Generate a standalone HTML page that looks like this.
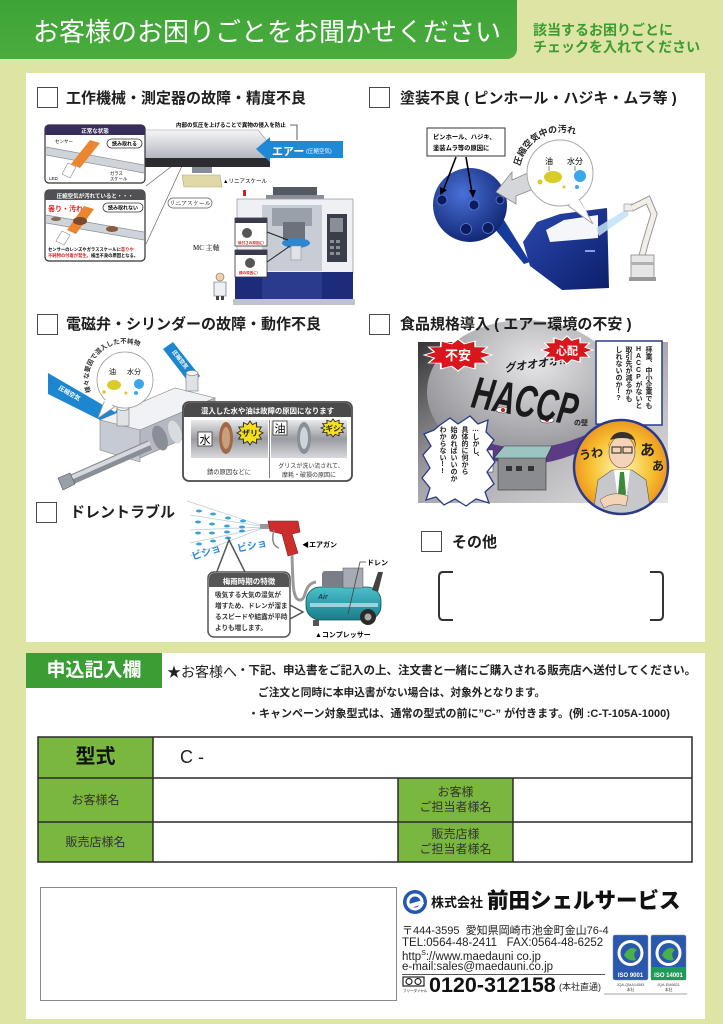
<!DOCTYPE html>
<html lang="ja"><head><meta charset="utf-8">
<style>
*{margin:0;padding:0;box-sizing:border-box}
html,body{width:723px;height:1024px;overflow:hidden}
body{background:#dde4a4;position:relative;font-family:"Liberation Sans","Noto Sans CJK JP",sans-serif;color:#222}
.a{position:absolute;white-space:nowrap;line-height:1}
.cb{position:absolute;width:21px;height:21px;border:1.6px solid #4a4a4a;background:#fff}
.t{position:absolute;font-weight:bold;font-size:15px;line-height:1;white-space:nowrap;color:#1e1e1e}
.v{position:absolute;writing-mode:vertical-rl;text-orientation:upright;white-space:nowrap;font-weight:bold;color:#222}
.c{position:absolute;display:flex;align-items:center;justify-content:center;text-align:center;line-height:1.25;color:#333}
</style></head><body>

<div class="a" style="left:0;top:0;width:517px;height:59px;background:linear-gradient(#3ea337,#4aac3d);border-radius:0 0 10px 0"></div>
<div class="a" style="left:26px;top:73px;width:679px;height:569px;background:#fff"></div>
<div class="a" style="left:26px;top:653px;width:679px;height:366px;background:#fff"></div>

<svg class="a" style="left:0;top:0;font-family:'Liberation Sans','Noto Sans CJK JP',sans-serif" width="723" height="1024" viewBox="0 0 723 1024">
<defs>
<linearGradient id="gs" x1="0" y1="0" x2="0" y2="1"><stop offset="0" stop-color="#f6f6f8"/><stop offset="1" stop-color="#aeb2ba"/></linearGradient>
<radialGradient id="gb" cx=".4" cy=".35" r=".7"><stop offset="0" stop-color="#4a70d8"/><stop offset="1" stop-color="#0e2470"/></radialGradient>
<linearGradient id="gd" x1="0" y1="0" x2="1" y2="1"><stop offset="0" stop-color="#2a48b0"/><stop offset="1" stop-color="#0c1f6a"/></linearGradient>
<linearGradient id="gm" x1="0" y1="0" x2="1" y2="1"><stop offset="0" stop-color="#353538"/><stop offset=".45" stop-color="#a4a4a8"/><stop offset="1" stop-color="#e4e4e4"/></linearGradient>
<radialGradient id="gc" cx=".55" cy=".3" r=".7"><stop offset="0" stop-color="#e6e6e8"/><stop offset="1" stop-color="#8c8c92"/></radialGradient>
<radialGradient id="go" cx=".5" cy=".5" r=".55"><stop offset="0" stop-color="#fff6b0"/><stop offset=".6" stop-color="#f7c030"/><stop offset="1" stop-color="#ea8a1c"/></radialGradient>
<linearGradient id="gp" x1="0" y1="0" x2="0" y2="1"><stop offset="0" stop-color="#eaeaec"/><stop offset=".5" stop-color="#9a9ca2"/><stop offset="1" stop-color="#d8d9dc"/></linearGradient>
<linearGradient id="gt" x1="0" y1="0" x2="0" y2="1"><stop offset="0" stop-color="#4cc0cc"/><stop offset="1" stop-color="#1a7c8a"/></linearGradient>
<clipPath id="cc"><circle cx="621" cy="467" r="47"/></clipPath>
<path id="arc1" d="M520,166 A42,42 0 0 1 600,158"/>
<path id="arc2" d="M91,392 A36,36 0 0 1 153,357"/>
</defs>

<!-- ===== Illustration 1 ===== -->
<line x1="172" y1="166" x2="146" y2="186" stroke="#666" stroke-width=".7"/>
<line x1="182" y1="166" x2="146" y2="244" stroke="#666" stroke-width=".7"/>
<polygon points="145,130 258,130 268,142 268,160 145,160" fill="url(#gs)" stroke="#999" stroke-width=".6"/>
<rect x="143" y="158" width="127" height="9" fill="#2b2b30"/>
<rect x="192" y="167" width="20" height="6" fill="#888c94"/>
<polygon points="182,175 220,175 222,187 184,187" fill="#e0d8a8" stroke="#b0a870" stroke-width=".6"/>
<text x="223" y="183" font-size="5.5">▲リニアスケール</text>
<text x="176" y="127" font-size="5.5" font-weight="bold">内部の気圧を上げることで異物の侵入を防止</text>
<polyline points="290,125 297,125 297,140" fill="none" stroke="#333" stroke-width=".8"/>
<polygon points="256,149 270,137 270,141 343,141 343,158 270,158 270,162" fill="#1e8ad6"/>
<text x="272" y="155" font-size="11" font-weight="bold" fill="#fff">エアー</text>
<text x="306" y="153" font-size="5.5" fill="#fff">(圧縮空気)</text>

<rect x="45" y="125" width="100" height="58" rx="4" fill="#fff" stroke="#333" stroke-width="1.2"/>
<path d="M45,129a4,4 0 0 1 4-4h92a4,4 0 0 1 4,4v6H45z" fill="#3a2c5c"/>
<text x="95" y="133" font-size="5.5" fill="#fff" text-anchor="middle" font-weight="bold">正常な状態</text>
<polygon points="46,147 144,165 144,173 46,155" fill="#cfd3da"/>
<line x1="46" y1="147" x2="144" y2="165" stroke="#8a8e96" stroke-width=".7"/>
<line x1="46" y1="155" x2="144" y2="173" stroke="#8a8e96" stroke-width=".7"/>
<polygon points="90,140 100,143 80,168 71,164" fill="#ea8630"/>
<polygon points="68,163 76,167 70,178 62,174" fill="#fff" stroke="#888" stroke-width=".6"/>
<text x="55" y="143" font-size="4.5">センサー</text>
<rect x="107" y="139" width="35" height="9" rx="4.5" fill="#fff" stroke="#333" stroke-width=".8"/>
<text x="124.5" y="145.5" font-size="5" text-anchor="middle" font-weight="bold">読み取れる</text>
<text x="49" y="180" font-size="4.5">LED</text>
<text x="110" y="175" font-size="4.3">ガラス</text>
<text x="110" y="180.5" font-size="4.3">スケール</text>

<rect x="45" y="190" width="100" height="71" rx="4" fill="#fff" stroke="#333" stroke-width="1.2"/>
<path d="M45,194a4,4 0 0 1 4-4h92a4,4 0 0 1 4,4v6H45z" fill="#505055"/>
<text x="95" y="198" font-size="5.5" fill="#fff" text-anchor="middle" font-weight="bold">圧縮空気が汚れていると・・・</text>
<polygon points="46,215 144,232 144,240 46,223" fill="#cfd3da"/>
<line x1="46" y1="215" x2="144" y2="232" stroke="#8a8e96" stroke-width=".7"/>
<line x1="46" y1="223" x2="144" y2="240" stroke="#8a8e96" stroke-width=".7"/>
<text x="48" y="211" font-size="7" font-weight="bold" fill="#d42020">曇り・汚れ</text>
<polygon points="84,206 94,209 76,234 67,230" fill="#ea8630"/>
<ellipse cx="80" cy="221" rx="7" ry="4" fill="#7a4a2a"/>
<ellipse cx="112" cy="229" rx="6" ry="3" fill="#8a5a3a"/>
<ellipse cx="56" cy="219" rx="5" ry="2" fill="#8a6a4a"/>
<polygon points="62,231 70,235 64,245 56,241" fill="#fff" stroke="#888" stroke-width=".6"/>
<rect x="103" y="203" width="40" height="9" rx="4.5" fill="#fff" stroke="#333" stroke-width=".8"/>
<text x="123" y="209.5" font-size="5" text-anchor="middle" font-weight="bold">読み取れない</text>
<text x="48" y="251" font-size="4.3" font-weight="bold">センサーのレンズやガラススケールに<tspan fill="#d42020">曇りや</tspan></text>
<text x="48" y="257" font-size="4.3" font-weight="bold"><tspan fill="#d42020">不純物の付着が発生。</tspan>検出不良の原因となる。</text>

<rect x="168" y="198" width="44" height="10" rx="5" fill="#fff" stroke="#555" stroke-width=".7"/>
<text x="190" y="205.5" font-size="6" text-anchor="middle" style="font-family:'Liberation Serif','Noto Serif CJK SC',serif">リニアスケール</text>

<rect x="273" y="187" width="44" height="11" fill="#555a62"/>
<rect x="266" y="195" width="58" height="5" fill="#8a8e96"/>
<rect x="237" y="199" width="116" height="74" fill="#eef0f4" stroke="#9aa0aa" stroke-width=".8"/>
<rect x="262" y="205" width="60" height="66" fill="#c8ccd4"/>
<rect x="272" y="208" width="40" height="18" fill="#9aa0aa"/>
<rect x="283" y="222" width="22" height="18" fill="#6c727c"/>
<ellipse cx="296" cy="243" rx="14" ry="5" fill="#2f86d0"/>
<rect x="291" y="246" width="10" height="14" fill="#dfe2e6" stroke="#888" stroke-width=".5"/>
<rect x="327" y="214" width="20" height="48" fill="#3a3e48"/>
<g fill="#8a8e98"><rect x="330" y="240" width="4" height="3"/><rect x="336" y="240" width="4" height="3"/><rect x="330" y="246" width="4" height="3"/><rect x="336" y="246" width="4" height="3"/><rect x="330" y="252" width="4" height="3"/><rect x="336" y="252" width="4" height="3"/><rect x="330" y="218" width="13" height="14"/></g>
<rect x="235" y="272" width="118" height="28" fill="#1d2c7a"/>
<rect x="262" y="272" width="60" height="28" fill="#2a3a8c"/>
<rect x="233" y="299" width="122" height="6" fill="#c0c4ca"/>
<rect x="243" y="190" width="3" height="6" fill="#d42020"/>
<rect x="235" y="218" width="32" height="28" fill="#fff" stroke="#333" stroke-width=".8"/>
<rect x="235" y="218" width="32" height="5" fill="#3a3a50"/>
<circle cx="247" cy="233" r="5" fill="#555"/>
<text x="238" y="244" font-size="3.6" fill="#d42020" font-weight="bold">焼付きの原因に!</text>
<rect x="235" y="250" width="32" height="27" fill="#fff" stroke="#333" stroke-width=".8"/>
<rect x="235" y="250" width="32" height="5" fill="#3a3a50"/>
<circle cx="250" cy="263" r="5" fill="#555"/>
<text x="239" y="274" font-size="3.6" fill="#d42020" font-weight="bold">錆の原因に!</text>
<line x1="267" y1="232" x2="288" y2="240" stroke="#222" stroke-width="1"/>
<line x1="267" y1="262" x2="290" y2="246" stroke="#222" stroke-width="1"/>
<text x="193" y="250" font-size="7" style="font-family:'Liberation Serif','Noto Serif CJK SC',serif">MC 主軸</text>
<circle cx="220" cy="277" r="4" fill="#f0d0b0" stroke="#8a5a3a" stroke-width=".6"/>
<path d="M214,282h12v14h-12z" fill="#eef0f4" stroke="#556" stroke-width=".6"/>
<rect x="216" y="296" width="3" height="4" fill="#444"/><rect x="221" y="296" width="3" height="4" fill="#444"/>

<!-- ===== Illustration 2 ===== -->
<polygon points="494,228 504,220 530,262 524,264" fill="#183a9a"/>
<circle cx="470" cy="205" r="37" fill="url(#gb)"/>
<g fill="#0b1c5e" stroke="#5a7ad8" stroke-width=".8">
<circle cx="442" cy="200" r="5"/><circle cx="474" cy="205" r="5"/><circle cx="500" cy="200" r="4"/><circle cx="466" cy="229" r="5.5"/><circle cx="488" cy="228" r="5.5"/>
</g>
<rect x="427" y="128" width="78" height="28" fill="#fff" stroke="#333" stroke-width="1"/>
<text x="433" y="139" font-size="6.3" font-weight="bold">ピンホール、ハジキ、</text>
<text x="433" y="150" font-size="6.3" font-weight="bold">塗装ムラ等の原因に</text>
<line x1="456" y1="157" x2="443" y2="191" stroke="#000" stroke-width="1.6"/>
<polygon points="440,195 440,187 447,190" fill="#000"/>
<line x1="466" y1="157" x2="472" y2="193" stroke="#000" stroke-width="1.6"/>
<polygon points="473,198 469,190 476,190" fill="#000"/>
<polygon points="496,192 512,172 512,180 537,169 541,186 516,196 516,204" fill="#d4d6da" stroke="#888" stroke-width=".8"/>
<polygon points="523,242 537,222 560,214 607,208 609,288 562,290 530,266" fill="url(#gd)"/>
<polygon points="546,230 564,220 598,215 598,238 550,242" fill="#f4f6fa"/>
<rect x="585" y="250" width="10" height="2" fill="#8aa0e0"/>
<polygon points="566,204 580,201 593,224" fill="#fff" stroke="#aaa" stroke-width="1"/>
<circle cx="560" cy="173" r="33" fill="#fff" stroke="#aaa" stroke-width="1"/>
<polygon points="567,203 579,200 588,214" fill="#fff"/>
<text font-size="9" font-weight="bold" fill="#222"><textPath href="#arc1">圧縮空気中の汚れ</textPath></text>
<text x="545" y="164" font-size="8">油</text>
<text x="567" y="164" font-size="8">水分</text>
<line x1="549" y1="166" x2="549" y2="171" stroke="#333" stroke-width=".6"/>
<line x1="575" y1="166" x2="575" y2="171" stroke="#333" stroke-width=".6"/>
<ellipse cx="553" cy="177" rx="9" ry="6" fill="#d8cc28"/>
<circle cx="580" cy="176" r="6" fill="#3aa8e8"/>
<circle cx="540" cy="182" r="2.5" fill="#d8cc28"/><circle cx="564" cy="187" r="1.5" fill="#d8cc28"/><circle cx="577" cy="187" r="2" fill="#3aa8e8"/>
<polygon points="596,228 627,209 629,215 599,236" fill="#bfe0f4" opacity=".85"/>
<rect x="624" y="204" width="9" height="7" fill="#eee" stroke="#888" stroke-width=".6"/>
<path d="M632,208 L648,200 L654,214 L645,244 L642,256" stroke="#999" stroke-width="7" fill="none"/>
<path d="M632,208 L648,200 L654,214 L645,244 L642,256" stroke="#f2efe6" stroke-width="5" fill="none"/>
<rect x="631" y="255" width="23" height="25" fill="#e6e6e6" stroke="#888" stroke-width=".8"/>
<rect x="631" y="262" width="23" height="3" fill="#b0b0b0"/>
<rect x="629" y="277" width="27" height="4" fill="#999"/>

<!-- ===== Illustration 3 ===== -->
<polygon points="48,373 115,412 120,405 126,428 104,432 110,425 48,394" fill="#1d86d0"/>
<text transform="translate(58,389) rotate(30)" font-size="6" fill="#fff" font-weight="bold">圧縮空気</text>
<polygon points="163,349 173,342 200,376 190,384" fill="#1d86d0"/>
<text transform="translate(172,352) rotate(52)" font-size="5.5" fill="#fff" font-weight="bold">圧縮空気</text>
<polygon points="100,420 175,388 215,398 140,430" fill="#f0f2f5" stroke="#888" stroke-width=".6"/>
<polygon points="100,420 140,430 140,462 100,450" fill="#c6cad2" stroke="#888" stroke-width=".6"/>
<polygon points="140,430 215,398 215,425 140,458" fill="#b4b8c0" stroke="#888" stroke-width=".6"/>
<ellipse cx="160" cy="438" rx="7" ry="13" fill="#8a8e96" transform="rotate(-20 160 438)"/>
<ellipse cx="175" cy="432" rx="6" ry="12" fill="#d8dbe0" transform="rotate(-20 175 432)"/>
<line x1="150" y1="445" x2="66" y2="482" stroke="#8a8e96" stroke-width="10"/>
<line x1="150" y1="443" x2="66" y2="480" stroke="#d6d9de" stroke-width="4"/>
<polygon points="58,478 70,473 75,484 63,490" fill="#9a9ea6" stroke="#555" stroke-width=".6"/>
<rect x="117" y="408" width="12" height="18" fill="#dfe2e6" stroke="#777" stroke-width=".6"/>
<ellipse cx="123" cy="408" rx="6" ry="2.5" fill="#f4f5f7" stroke="#777" stroke-width=".6"/>
<rect x="186" y="373" width="12" height="18" fill="#dfe2e6" stroke="#777" stroke-width=".6"/>
<ellipse cx="192" cy="373" rx="6" ry="2.5" fill="#f4f5f7" stroke="#777" stroke-width=".6"/>
<polygon points="104,402 116,406 98,418" fill="#fff" stroke="#999" stroke-width=".8"/>
<circle cx="125" cy="380" r="28" fill="#fff" stroke="#999" stroke-width=".8"/>
<polygon points="106,399 115,403 101,413" fill="#fff"/>
<text font-size="6.5" font-weight="bold" fill="#333"><textPath href="#arc2">様々な要因で混入した不純物</textPath></text>
<text x="109" y="374" font-size="7">油</text>
<text x="127" y="374" font-size="7">水分</text>
<ellipse cx="114" cy="385" rx="7" ry="5" fill="#d8cc28"/>
<circle cx="139" cy="384" r="5" fill="#3aa8e8"/>
<circle cx="104" cy="392" r="1.8" fill="#d8cc28"/><circle cx="126" cy="393" r="1.5" fill="#d8cc28"/><circle cx="136" cy="393" r="2" fill="#3aa8e8"/>

<rect x="183" y="402" width="169" height="79" rx="6" fill="#fff" stroke="#4a4a4a" stroke-width="1.8"/>
<path d="M184,408a5,5 0 0 1 5-5h157a5,5 0 0 1 5,5v9h-167z" fill="#4a4a4a"/>
<text x="267.5" y="413.5" font-size="7.4" fill="#fff" text-anchor="middle" font-weight="bold">混入した水や油は故障の原因になります</text>
<rect x="191" y="420" width="77" height="38" fill="url(#gp)"/>
<rect x="271" y="420" width="76" height="38" fill="url(#gp)"/>
<line x1="269.5" y1="420" x2="269.5" y2="478" stroke="#666" stroke-width=".8"/>
<ellipse cx="226" cy="438" rx="7" ry="16" fill="#a06a48"/>
<ellipse cx="226" cy="438" rx="4" ry="11" fill="#c8a080"/>
<ellipse cx="304" cy="438" rx="7" ry="16" fill="#8a9098"/>
<ellipse cx="304" cy="438" rx="4" ry="11" fill="#d0d4da"/>
<rect x="198" y="432" width="14" height="14" fill="#fff" stroke="#333" stroke-width=".8"/>
<text x="205" y="443.5" font-size="11" text-anchor="middle">水</text>
<rect x="273" y="421" width="14" height="14" fill="#fff" stroke="#333" stroke-width=".8"/>
<text x="280" y="432.5" font-size="11" text-anchor="middle">油</text>
<polygon transform="translate(250,433) scale(13,12)" points="1,0 .696,.186 .866,.5 .509,.509 .5,.866 .186,.696 0,1 -.186,.696 -.5,.866 -.509,.509 -.866,.5 -.696,.186 -1,0 -.696,-.186 -.866,-.5 -.509,-.509 -.5,-.866 -.186,-.696 0,-1 .186,-.696 .5,-.866 .509,-.509 .866,-.5 .696,-.186" fill="#f5e020" stroke="#333" stroke-width=".08"/>
<text x="250" y="436" font-size="8" font-weight="bold" text-anchor="middle" fill="#222">ザリ</text>
<polygon transform="translate(333,428) scale(12,9)" points="1,0 .696,.186 .866,.5 .509,.509 .5,.866 .186,.696 0,1 -.186,.696 -.5,.866 -.509,.509 -.866,.5 -.696,.186 -1,0 -.696,-.186 -.866,-.5 -.509,-.509 -.5,-.866 -.186,-.696 0,-1 .186,-.696 .5,-.866 .509,-.509 .866,-.5 .696,-.186" fill="#f5e020" stroke="#333" stroke-width=".09"/>
<text x="333" y="431" font-size="7.5" font-weight="bold" text-anchor="middle" fill="#222">ギシ</text>
<text x="229" y="474" font-size="6.3" text-anchor="middle" fill="#333">錆の原因などに</text>
<text x="311" y="468" font-size="6" text-anchor="middle" fill="#333">グリスが洗い流されて、</text>
<text x="309" y="477" font-size="6" text-anchor="middle" fill="#333">摩耗・破損の原因に</text>

<!-- ===== Illustration 4 (manga) ===== -->
<rect x="418" y="342" width="250" height="161" fill="url(#gm)"/>
<ellipse cx="525" cy="392" rx="98" ry="72" fill="url(#gc)"/>
<path d="M450,425 Q520,470 600,428 L602,440 Q520,490 448,438Z" fill="#5b3a86"/>
<ellipse cx="503" cy="410" rx="7" ry="3" fill="#fff" stroke="#333" stroke-width=".6"/>
<circle cx="503" cy="410" r="2" fill="#c02020"/>
<ellipse cx="547" cy="420" rx="7" ry="3" fill="#fff" stroke="#333" stroke-width=".6"/>
<circle cx="547" cy="420" r="2" fill="#c02020"/>
<text transform="translate(470,407) rotate(10) scale(1,1.5)" font-size="30" font-weight="bold" font-style="italic" fill="#1a1a1a">HACCP</text>
<text x="574" y="425" font-size="7" font-weight="bold" fill="#222">の壁</text>
<text transform="translate(505,372) rotate(-8)" font-size="11" font-weight="bold" font-style="italic" fill="#1a1a1a">グオオオオ!!</text>
<polygon transform="translate(458,355) scale(34,16)" points="1,0 .696,.186 .866,.5 .509,.509 .5,.866 .186,.696 0,1 -.186,.696 -.5,.866 -.509,.509 -.866,.5 -.696,.186 -1,0 -.696,-.186 -.866,-.5 -.509,-.509 -.5,-.866 -.186,-.696 0,-1 .186,-.696 .5,-.866 .509,-.509 .866,-.5 .696,-.186" fill="#d8161e" stroke="#fff" stroke-width=".05"/>
<text x="458" y="360" font-size="13" font-weight="bold" text-anchor="middle" fill="#fff">不安</text>
<polygon transform="translate(567,350) scale(26,14)" points="1,0 .696,.186 .866,.5 .509,.509 .5,.866 .186,.696 0,1 -.186,.696 -.5,.866 -.509,.509 -.866,.5 -.696,.186 -1,0 -.696,-.186 -.866,-.5 -.509,-.509 -.5,-.866 -.186,-.696 0,-1 .186,-.696 .5,-.866 .509,-.509 .866,-.5 .696,-.186" fill="#d8161e" stroke="#fff" stroke-width=".06"/>
<text x="567" y="354.5" font-size="11" font-weight="bold" text-anchor="middle" fill="#fff">心配</text>
<rect x="498" y="457" width="48" height="33" fill="#8a8c90" stroke="#333" stroke-width=".6"/>
<polygon points="494,458 504,446 552,446 546,458" fill="#9cc4c0" stroke="#333" stroke-width=".6"/>
<rect x="506" y="466" width="6" height="5" fill="#333"/><rect x="516" y="466" width="6" height="5" fill="#333"/><rect x="528" y="466" width="6" height="5" fill="#333"/>
<rect x="486" y="450" width="7" height="22" fill="#fff" stroke="#333" stroke-width=".5"/>
<polygon points="440,425 450,418 458,424 470,416 478,424 488,420 486,432 494,440 487,450 495,462 487,472 494,484 485,492 489,503 476,499 466,506 455,499 444,505 436,497 426,500 430,488 422,478 430,468 423,455 431,446 424,434 434,430" fill="#fff" stroke="#2a3a8a" stroke-width="1.3"/>
<path d="M596,341 L662,341 L662,425 L632,425 L612,446 L620,425 L596,424Z" fill="#fff" stroke="#2a3a8a" stroke-width="1.5"/>
<circle cx="621" cy="467" r="47" fill="url(#go)"/>
<g clip-path="url(#cc)">
<polygon points="592,520 598,480 612,470 632,470 646,480 652,520" fill="#c6c8cc" stroke="#555" stroke-width=".6"/>
<polygon points="614,470 630,470 626,500 618,500" fill="#fff"/>
<polygon points="620,472 624,472 626,494 622,498 618,494" fill="#3a8a3a"/>
<ellipse cx="622" cy="452" rx="13" ry="16" fill="#f4d4b8" stroke="#6a4a3a" stroke-width=".6"/>
<path d="M608,448 Q610,432 622,432 Q636,432 636,448 L634,440 Q622,436 610,440Z" fill="#3a3030"/>
<rect x="612" y="447" width="9" height="6" fill="none" stroke="#222" stroke-width="1"/>
<rect x="623" y="447" width="9" height="6" fill="none" stroke="#222" stroke-width="1"/>
<path d="M600,500 Q612,490 628,496 L626,506 Q614,502 604,508Z" fill="#f4d4b8" stroke="#6a4a3a" stroke-width=".5"/>
</g>
<circle cx="621" cy="467" r="47" fill="none" stroke="#2a3a8a" stroke-width="2.5"/>
<text x="580" y="460" font-size="12" font-weight="bold" fill="#222" transform="rotate(-10 580 460)">うわ</text>
<text x="640" y="455" font-size="15" font-weight="bold" fill="#222">あ</text>
<text x="652" y="470" font-size="12" font-weight="bold" fill="#222">あ</text>

<!-- ===== Illustration 5 ===== -->
<g stroke="#b8cedc" stroke-width=".8" fill="none">
<line x1="266" y1="527" x2="187" y2="501"/><line x1="266" y1="527" x2="190" y2="556"/>
<line x1="266" y1="527" x2="190" y2="515"/><line x1="266" y1="527" x2="190" y2="530"/><line x1="266" y1="527" x2="190" y2="543"/>
</g>
<g fill="#3aa0d8">
<ellipse cx="199" cy="511" rx="3" ry="1.5"/><ellipse cx="213" cy="514" rx="3" ry="1.5"/><ellipse cx="228" cy="518" rx="3" ry="1.5"/><ellipse cx="243" cy="521" rx="3" ry="1.5"/>
<ellipse cx="198" cy="522" rx="3" ry="1.5"/><ellipse cx="212" cy="524" rx="3" ry="1.5"/><ellipse cx="227" cy="526" rx="3" ry="1.5"/><ellipse cx="242" cy="527" rx="3" ry="1.5"/>
<ellipse cx="198" cy="533" rx="3" ry="1.5"/><ellipse cx="212" cy="533" rx="3" ry="1.5"/><ellipse cx="227" cy="532" rx="3" ry="1.5"/><ellipse cx="242" cy="531" rx="3" ry="1.5"/>
<ellipse cx="199" cy="544" rx="3" ry="1.5"/><ellipse cx="213" cy="541" rx="3" ry="1.5"/><ellipse cx="228" cy="538" rx="3" ry="1.5"/>
</g>
<text transform="translate(193,560) rotate(-18)" font-size="10" font-weight="bold" fill="#2a8ad0">ビショ</text>
<text transform="translate(238,552) rotate(-12)" font-size="10" font-weight="bold" fill="#2a8ad0">ビショ</text>
<rect x="260" y="524" width="10" height="5" fill="#999"/>
<path d="M268,521 L298,521 L300,532 L292,534 L298,553 L288,556 L282,534 L270,531Z" fill="#cc2e2e" stroke="#7a1a1a" stroke-width=".6"/>
<path d="M274,530 Q270,545 279,548" fill="none" stroke="#888" stroke-width="1.5"/>
<text x="302" y="547" font-size="7" font-weight="bold">◀エアガン</text>
<path d="M292,555 C293,580 292,600 300,600 C307,600 303,584 316,582" fill="none" stroke="#999" stroke-width="3"/>
<rect x="306" y="587" width="75" height="33" rx="14" fill="url(#gt)" stroke="#155" stroke-width=".8"/>
<rect x="310" y="603" width="68" height="4" fill="#c8eef2" opacity=".7"/>
<text x="318" y="599" font-size="7" font-style="italic" font-weight="bold" fill="#0e4a55">Air</text>
<rect x="322" y="571" width="26" height="17" rx="3" fill="#7a7e86"/>
<rect x="343" y="568" width="20" height="20" fill="#a6aab2" stroke="#555" stroke-width=".5"/>
<path d="M372,590 L378,572 L383,572 L378,592" fill="#444"/>
<circle cx="368" cy="617" r="8" fill="#2a2a2a"/><circle cx="368" cy="617" r="3.5" fill="#aaa"/>
<rect x="313" y="620" width="6" height="6" fill="#555"/>
<polyline points="366,562 360,562 348,614" fill="none" stroke="#444" stroke-width=".8"/>
<text x="367" y="565" font-size="7" font-weight="bold">ドレン</text>
<text x="315" y="637" font-size="7" font-weight="bold">▲コンプレッサー</text>
<polygon points="216,574 246,574 229,540" fill="#fff" stroke="#555" stroke-width="1.5"/>
<polygon points="288,604 288,620 303,612" fill="#fff" stroke="#555" stroke-width="1.5"/>
<rect x="208" y="572" width="82" height="65" rx="6" fill="#fff" stroke="#555" stroke-width="1.5"/>
<path d="M209,578a5,5 0 0 1 5-5h70a5,5 0 0 1 5,5v9h-80z" fill="#555"/>
<text x="249" y="584" font-size="7.5" text-anchor="middle" fill="#fff" font-weight="bold">梅雨時期の特徴</text>
<g font-size="6.6" font-weight="bold" fill="#333">
<text x="215" y="597">吸気する大気の湿気が</text>
<text x="215" y="608">増すため、ドレンが溜ま</text>
<text x="215" y="619">るスピードや結露が平時</text>
<text x="215" y="630">よりも増します。</text>
</g>

<!-- bracket その他 -->
<path d="M453,572 L443,572 Q439,572 439,577 L439,615 Q439,620 443,620 L453,620" fill="none" stroke="#333" stroke-width="2"/>
<path d="M650,572 L659,572 Q663,572 663,577 L663,615 Q663,620 659,620 L650,620" fill="none" stroke="#333" stroke-width="2"/>

<!-- ===== Form table ===== -->
<rect x="38" y="737" width="115" height="125" fill="#7ab73e"/>
<rect x="398" y="778" width="115" height="84" fill="#7ab73e"/>
<g stroke="#2a2a2a" stroke-width="1.5" fill="none">
<rect x="38" y="737" width="654" height="125"/>
<line x1="38" y1="778" x2="692" y2="778"/>
<line x1="38" y1="822" x2="692" y2="822"/>
<line x1="153" y1="737" x2="153" y2="862"/>
<line x1="398" y1="778" x2="398" y2="862"/>
<line x1="513" y1="778" x2="513" y2="862"/>
</g>

<!-- ===== Bottom ===== -->
<rect x="40.5" y="887.5" width="356" height="113" fill="#fff" stroke="#8a8a8a" stroke-width="1"/>
<circle cx="415" cy="902" r="12" fill="#2456b4"/>
<circle cx="415" cy="902" r="8.5" fill="#fff"/>
<circle cx="415" cy="902" r="5.5" fill="#2456b4"/>
<polygon points="409,904 423,900 424,904 410,908" fill="#fff"/>
<line x1="402" y1="974.5" x2="605" y2="974.5" stroke="#555" stroke-width="1"/>
<rect x="403" y="977" width="21" height="9" fill="#fff" stroke="#222" stroke-width="1.2"/>
<circle cx="409" cy="981.5" r="3" fill="none" stroke="#222" stroke-width="1.2"/>
<circle cx="418" cy="981.5" r="3" fill="none" stroke="#222" stroke-width="1.2"/>
<text x="403" y="992" font-size="3.5">フリーダイヤル</text>
<rect x="613" y="935" width="35" height="45" rx="2" fill="#2a58ac" stroke="#88a" stroke-width=".5"/>
<circle cx="630.5" cy="953" r="13" fill="#fff"/><circle cx="630.5" cy="953" r="10" fill="#2a58ac"/>
<path d="M624,955 Q630,944 637,950 Q632,953 636,960 Q628,962 624,955Z" fill="#4ab04a"/>
<text x="630.5" y="977" font-size="6" font-weight="bold" fill="#fff" text-anchor="middle">ISO 9001</text>
<rect x="651" y="935" width="35" height="45" rx="2" fill="#2a58ac" stroke="#88a" stroke-width=".5"/>
<rect x="651" y="967" width="35" height="13" fill="#1f9a58"/>
<circle cx="668.5" cy="953" r="13" fill="#fff"/><circle cx="668.5" cy="953" r="10" fill="#2a58ac"/>
<path d="M662,955 Q668,944 675,950 Q670,953 674,960 Q666,962 662,955Z" fill="#4ab04a"/>
<text x="668.5" y="977" font-size="6" font-weight="bold" fill="#fff" text-anchor="middle">ISO 14001</text>
<text x="630.5" y="986" font-size="3.8" text-anchor="middle" fill="#444">JQA-QMA14583</text>
<text x="630.5" y="991" font-size="3.8" text-anchor="middle" fill="#444">本社</text>
<text x="668.5" y="986" font-size="3.8" text-anchor="middle" fill="#444">JQA-EM6821</text>
<text x="668.5" y="991" font-size="3.8" text-anchor="middle" fill="#444">本社</text>
<line x1="604" y1="994" x2="687" y2="994" stroke="#888" stroke-width=".8"/>
</svg>

<!-- header text -->
<div class="a" style="left:33px;top:19px;font-size:26px;color:#fff">お客様のお困りごとをお聞かせください</div>
<div class="a" style="left:533px;top:23px;font-size:14px;font-weight:bold;color:#3a9b32">該当するお困りごとに</div>
<div class="a" style="left:533px;top:40px;font-size:14px;font-weight:bold;color:#3a9b32">チェックを入れてください</div>

<!-- checkboxes & titles -->
<div class="cb" style="left:37px;top:87px"></div>
<div class="t" style="left:66px;top:91px">工作機械・測定器の故障・精度不良</div>
<div class="cb" style="left:369px;top:87px"></div>
<div class="t" style="left:400px;top:91px">塗装不良 ( ピンホール・ハジキ・ムラ等 )</div>
<div class="cb" style="left:37px;top:314px"></div>
<div class="t" style="left:66px;top:317px">電磁弁・シリンダーの故障・動作不良</div>
<div class="cb" style="left:369px;top:314px"></div>
<div class="t" style="left:400px;top:317px">食品規格導入 ( エアー環境の不安 )</div>
<div class="cb" style="left:36px;top:502px"></div>
<div class="t" style="left:70px;top:505px">ドレントラブル</div>
<div class="cb" style="left:421px;top:531px"></div>
<div class="t" style="left:452px;top:535px">その他</div>

<!-- manga vertical text -->
<div class="v" style="left:613px;top:346px;font-size:7px;line-height:10px">拝業、中小企業でも<br>HACCPがないと<br>取引先が減るかも<br>しれないのか!?</div>
<div class="v" style="left:437px;top:426px;font-size:7px;line-height:11px">…しかし、<br>具体的に何から<br>始めればいいのか<br>わからない!!</div>

<!-- application section -->
<div class="a" style="left:26px;top:653px;width:136px;height:35px;background:#3a9e34"></div>
<div class="a" style="left:26px;top:661px;width:136px;text-align:center;font-size:19px;font-weight:bold;color:#fff">申込記入欄</div>
<div class="a" style="left:167px;top:665px;font-size:14px">★お客様へ</div>
<div class="a" style="left:237px;top:666px;font-size:11.5px;font-weight:bold">・下記、申込書をご記入の上、注文書と一緒にご購入される販売店へ送付してください。</div>
<div class="a" style="left:258px;top:688px;font-size:10.7px;font-weight:bold">ご注文と同時に本申込書がない場合は、対象外となります。</div>
<div class="a" style="left:248px;top:709px;font-size:11px;font-weight:bold">・キャンペーン対象型式は、通常の型式の前に”C-” が付きます。(例 :C-T-105A-1000)</div>

<div class="c" style="left:38px;top:737px;width:115px;height:41px;font-size:20px;font-weight:bold;color:#111">型式</div>
<div class="a" style="left:180px;top:748px;font-size:18px;color:#222">C -</div>
<div class="c" style="left:38px;top:778px;width:115px;height:44px;font-size:12px">お客様名</div>
<div class="c" style="left:38px;top:822px;width:115px;height:40px;font-size:12px">販売店様名</div>
<div class="c" style="left:398px;top:778px;width:115px;height:44px;font-size:12px">お客様<br>ご担当者様名</div>
<div class="c" style="left:398px;top:822px;width:115px;height:40px;font-size:12px">販売店様<br>ご担当者様名</div>

<!-- company -->
<div class="a" style="left:431px;top:896px;font-size:13px;font-weight:bold;color:#111">株式会社</div>
<div class="a" style="left:487px;top:891px;font-size:21.5px;font-weight:900;color:#111">前田シェルサービス</div>
<div class="a" style="left:402px;top:926px;font-size:11px;color:#222">〒444-3595&nbsp; 愛知県岡崎市池金町金山76-4</div>
<div class="a" style="left:402px;top:938px;font-size:11.5px;color:#222">TEL:0564-48-2411&nbsp;&nbsp; FAX:0564-48-6252</div>
<div class="a" style="left:402px;top:950px;font-size:11.5px;color:#222">http<sup style="font-size:7px">S</sup>://www.maedauni co.jp</div>
<div class="a" style="left:402px;top:962px;font-size:11.5px;color:#222">e-mail:sales@maedauni.co.jp</div>
<div class="a" style="left:429px;top:975px;font-size:21.5px;font-weight:bold;color:#111">0120-312158</div>
<div class="a" style="left:559px;top:983px;font-size:9px;color:#222">(本社直通)</div>
</body></html>
